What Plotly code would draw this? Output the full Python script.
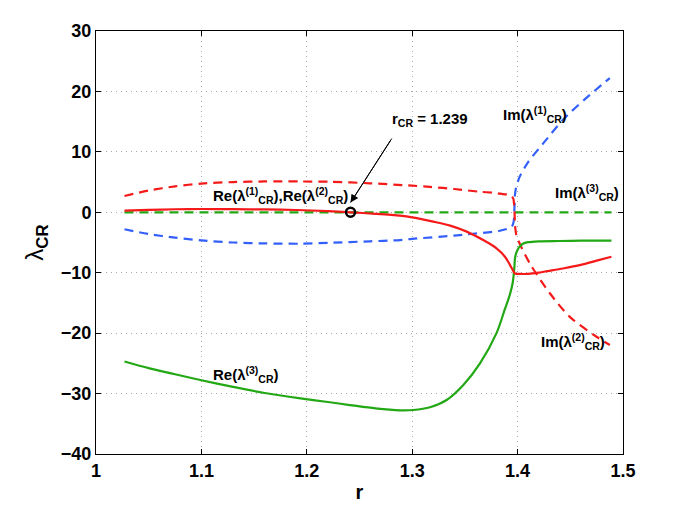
import plotly.graph_objects as go

# Re(lambda1), Re(lambda2) branch (red solid) then Re of the split pair
r_re12 = [1.027, 1.05, 1.075, 1.10, 1.13, 1.16, 1.19, 1.22, 1.2415, 1.265, 1.2884,
          1.30, 1.32, 1.336, 1.3517, 1.3674, 1.38, 1.388, 1.3927, 1.3955, 1.3968,
          1.398, 1.402, 1.41, 1.42, 1.426, 1.443, 1.46, 1.475, 1.489]
re12 = [0.26, 0.40, 0.50, 0.54, 0.52, 0.47, 0.38, 0.18, 0.0, -0.25, -0.56,
        -0.83, -1.55, -2.2, -3.2, -4.6, -5.96, -7.35, -8.7, -9.6, -10.0,
        -10.15, -10.2, -10.2, -10.0, -9.8, -9.3, -8.7, -8.0, -7.35]

# Re(lambda3) (green solid)
r_re3 = [1.027, 1.05, 1.075, 1.099, 1.13, 1.16, 1.194, 1.22, 1.241, 1.265, 1.2884,
         1.301, 1.3169, 1.3327, 1.3485, 1.3643, 1.38, 1.388, 1.392, 1.395, 1.3962,
         1.397, 1.3975, 1.399, 1.401, 1.405, 1.41, 1.42, 1.44, 1.46, 1.489]
re3 = [-24.7, -25.8, -26.8, -27.75, -28.9, -29.9, -30.8, -31.4, -31.9, -32.45, -32.77,
       -32.72, -32.27, -31.06, -28.58, -25.0, -20.0, -16.0, -14.0, -12.0, -10.5,
       -9.0, -7.6, -6.6, -5.9, -5.2, -4.95, -4.8, -4.75, -4.7, -4.7]

# Im(lambda2) (red dashed)
r_im2 = [1.027, 1.05, 1.075, 1.10, 1.13, 1.16, 1.194, 1.222, 1.26, 1.30, 1.317,
         1.34, 1.364, 1.379, 1.386, 1.3927, 1.3958, 1.3968, 1.3972, 1.3975,
         1.3985, 1.4005, 1.4117, 1.4306, 1.4495, 1.4749, 1.4875]
im2 = [2.7, 3.6, 4.3, 4.75, 5.0, 5.1, 5.1, 5.05, 4.8, 4.4, 4.2,
       3.85, 3.4, 3.2, 3.0, 2.86, 2.3, 1.0, -0.5, -2.0,
       -3.5, -4.6, -8.5, -13.4, -17.3, -20.6, -21.96]

# Im(lambda1) (blue dashed)
r_im1 = [1.027, 1.05, 1.075, 1.10, 1.13, 1.16, 1.194, 1.222, 1.26, 1.2884, 1.30,
         1.34, 1.3517, 1.3832, 1.3943, 1.3962, 1.3970, 1.3975, 1.3985, 1.402,
         1.41, 1.4243, 1.443, 1.465, 1.4875]
im1 = [-2.8, -3.6, -4.2, -4.65, -5.0, -5.15, -5.2, -5.05, -4.8, -4.6, -4.4,
       -3.85, -3.66, -3.05, -2.4, -1.6, 0.7, 2.9, 4.0, 5.9,
       8.3, 11.4, 15.3, 18.9, 22.2]

# Im(lambda3) (green dashed)
r_im3 = [1.027, 1.489]
im3 = [0.0, 0.0]

r_cr = 1.2415
r_cr_label = "1.239"
# where the pointer to the critical point starts
arrow_tail = (1.2806, 12.2)
arrow_head = (r_cr, 1.6)

RED = "#f51a1a"
GREEN = "#22a814"
BLUE = "#3360fa"
DASH = "9px,6px"
FONT = "Liberation Sans, Arial, Helvetica, sans-serif"


def curve(x, y, color, dash=None):
    return go.Scatter(x=x, y=y, mode="lines",
                      line=dict(color=color, width=2.2, dash=dash,
                                shape="spline", smoothing=0.8))


fig = go.Figure()
fig.add_trace(curve(r_im3, im3, GREEN, DASH))
fig.add_trace(curve(r_im1, im1, BLUE, DASH))
fig.add_trace(curve(r_im2, im2, RED, DASH))
fig.add_trace(curve(r_re3, re3, GREEN))
fig.add_trace(curve(r_re12, re12, RED))
fig.add_trace(go.Scatter(x=[r_cr], y=[0], mode="markers",
                         marker=dict(size=9, color="rgba(0,0,0,0)",
                                     line=dict(color="black", width=2.5))))

lbl = dict(family=FONT, size=15, color="black", weight="bold")
labels = [
    (1.1747, 2.8, "Re(λ<sup>(1)</sup><sub>CR</sub>),Re(λ<sup>(2)</sup><sub>CR</sub>)"),
    (1.1425, -26.9, "Re(λ<sup>(3)</sup><sub>CR</sub>)"),
    (1.4164, 16.2, "Im(λ<sup>(1)</sup><sub>CR</sub>)"),
    (1.4656, 3.2, "Im(λ<sup>(3)</sup><sub>CR</sub>)"),
    (1.4522, -21.4, "Im(λ<sup>(2)</sup><sub>CR</sub>)"),
]
for x, y, t in labels:
    fig.add_annotation(x=x, y=y, text=t, showarrow=False, font=lbl)

fig.add_annotation(x=1.279, y=15.3, text="r<sub>CR</sub> = " + r_cr_label,
                   showarrow=False, xanchor="left", font=lbl)
# shaft of the pointer, then its head
fig.add_shape(type="line", xref="x", yref="y",
              x0=arrow_tail[0], y0=arrow_tail[1], x1=arrow_head[0], y1=arrow_head[1],
              line=dict(color="black", width=1))
fig.add_annotation(x=arrow_head[0], y=arrow_head[1], ax=arrow_tail[0], ay=arrow_tail[1],
                   axref="x", ayref="y", text="", showarrow=True,
                   arrowhead=2, arrowsize=1.6, arrowwidth=1, arrowcolor="black")

axis = dict(showline=True, linecolor="black", linewidth=1, mirror="allticks",
            ticks="inside", ticklen=5, tickcolor="black",
            showgrid=True, gridcolor="#a8a8a8", griddash="1px,4px", gridwidth=1,
            zeroline=False,
            tickfont=dict(family=FONT, size=18, color="black", weight="bold"))

# the page body adds an 8px margin, so the figure is drawn 8px smaller
fig.update_layout(
    width=673, height=512,
    margin=dict(l=88, r=58, t=23, b=66),
    plot_bgcolor="white", paper_bgcolor="white",
    showlegend=False,
    xaxis=dict(axis, range=[1, 1.5], tick0=1, dtick=0.1,
               title=dict(text="r", standoff=5,
                          font=dict(family=FONT, size=20, color="black", weight="bold"))),
    yaxis=dict(axis, range=[-40, 30], dtick=10,
               title=dict(text="λ<b><sub>CR</sub></b>", standoff=10,
                          font=dict(family=FONT, size=24, color="black"))),
)

fig.write_html("out.html")
